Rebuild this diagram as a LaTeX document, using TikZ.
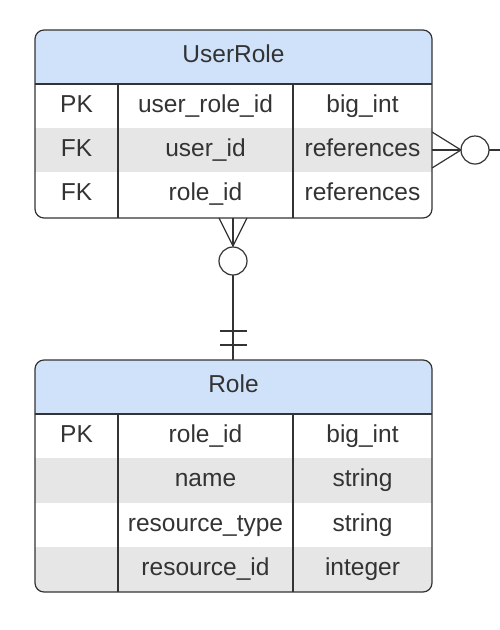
\documentclass[tikz,border=0pt]{standalone}
\usepackage{fontspec}
\setmainfont{Liberation Sans}
\usepackage{tikz}
\usetikzlibrary{positioning}
\definecolor{hdrblue}{HTML}{D0E2FA}
\definecolor{rowgray}{HTML}{E6E6E6}
\definecolor{linegray}{HTML}{333333}

\begin{document}
\begin{tikzpicture}[x=1pt, y=-1pt, line width=1.2pt, draw=linegray,
  cell/.style={inner sep=0pt, anchor=base, yshift=-7.5pt, text=linegray,
    font=\fontsize{24.5}{28}\selectfont},
  frame/.style={draw=linegray, rounded corners=9pt}]
\useasboundingbox (0,0) rectangle (500,630);

% UserRole table
\begin{scope}
\clip[rounded corners=9pt] (35,30) rectangle (432,218);
\fill[hdrblue] (35,30) rectangle (432,84);
\fill[rowgray] (35,128) rectangle (432,172);
\end{scope}
\draw (35,84) -- (432,84);
\draw (118,84) -- (118,218);
\draw (293,84) -- (293,218);
\draw[frame] (35,30) rectangle (432,218);

\node[cell] (ur) at (233.5,55) {UserRole};
\node[cell] (ur-k1) at (76.5,105) {PK};
\node[cell] (ur-n1) at (205.5,105) {user\_role\_id};
\node[cell] (ur-t1) at (362.5,105) {big\_int};
\node[cell] (ur-k2) at (76.5,149) {FK};
\node[cell] (ur-n2) at (205.5,149) {user\_id};
\node[cell] (ur-t2) at (362.5,149) {references};
\node[cell] (ur-k3) at (76.5,193) {FK};
\node[cell] (ur-n3) at (205.5,193) {role\_id};
\node[cell] (ur-t3) at (362.5,193) {references};

% Role table
\begin{scope}
\clip[rounded corners=9pt] (35,360) rectangle (432,592);
\fill[hdrblue] (35,360) rectangle (432,414);
\fill[rowgray] (35,458) rectangle (432,503);
\fill[rowgray] (35,547) rectangle (432,592);
\end{scope}
\draw (35,414) -- (432,414);
\draw (118,414) -- (118,592);
\draw (293,414) -- (293,592);
\draw[frame] (35,360) rectangle (432,592);

\node[cell] (role) at (233.5,385) {Role};
\node[cell] (role-k1) at (76.5,435) {PK};
\node[cell] (role-n1) at (205.5,435) {role\_id};
\node[cell] (role-t1) at (362.5,435) {big\_int};
\node[cell] (role-n2) at (205.5,479) {name};
\node[cell] (role-t2) at (362.5,479) {string};
\node[cell] (role-n3) at (205.5,523.5) {resource\_type};
\node[cell] (role-t3) at (362.5,523.5) {string};
\node[cell] (role-n4) at (205.5,568) {resource\_id};
\node[cell] (role-t4) at (362.5,568) {integer};

% user_id -> off to the right (many, optional)
\coordinate (ur-out) at (432,150);
\coordinate (ur-tip) at (461,150);
\coordinate (ur-far) at (500,150);
\draw (432,132) -- (ur-tip) -- (432,168);
\draw (ur-out) -- (ur-tip);
\draw (475,150) circle (14);
\draw (489,150) -- (ur-far);

% UserRole -> Role (many optional to exactly one)
\coordinate (ur-bot) at (233,218);
\coordinate (ur-foot) at (233,246);
\coordinate (role-top) at (233,360);
\draw (219,218) -- (ur-foot) -- (247,218);
\draw (ur-bot) -- (ur-foot);
\draw (233,261) circle (14);
\draw (233,275) -- (role-top);
\draw (220,331) -- (247,331);
\draw (220,345) -- (247,345);
\end{tikzpicture}
\end{document}
